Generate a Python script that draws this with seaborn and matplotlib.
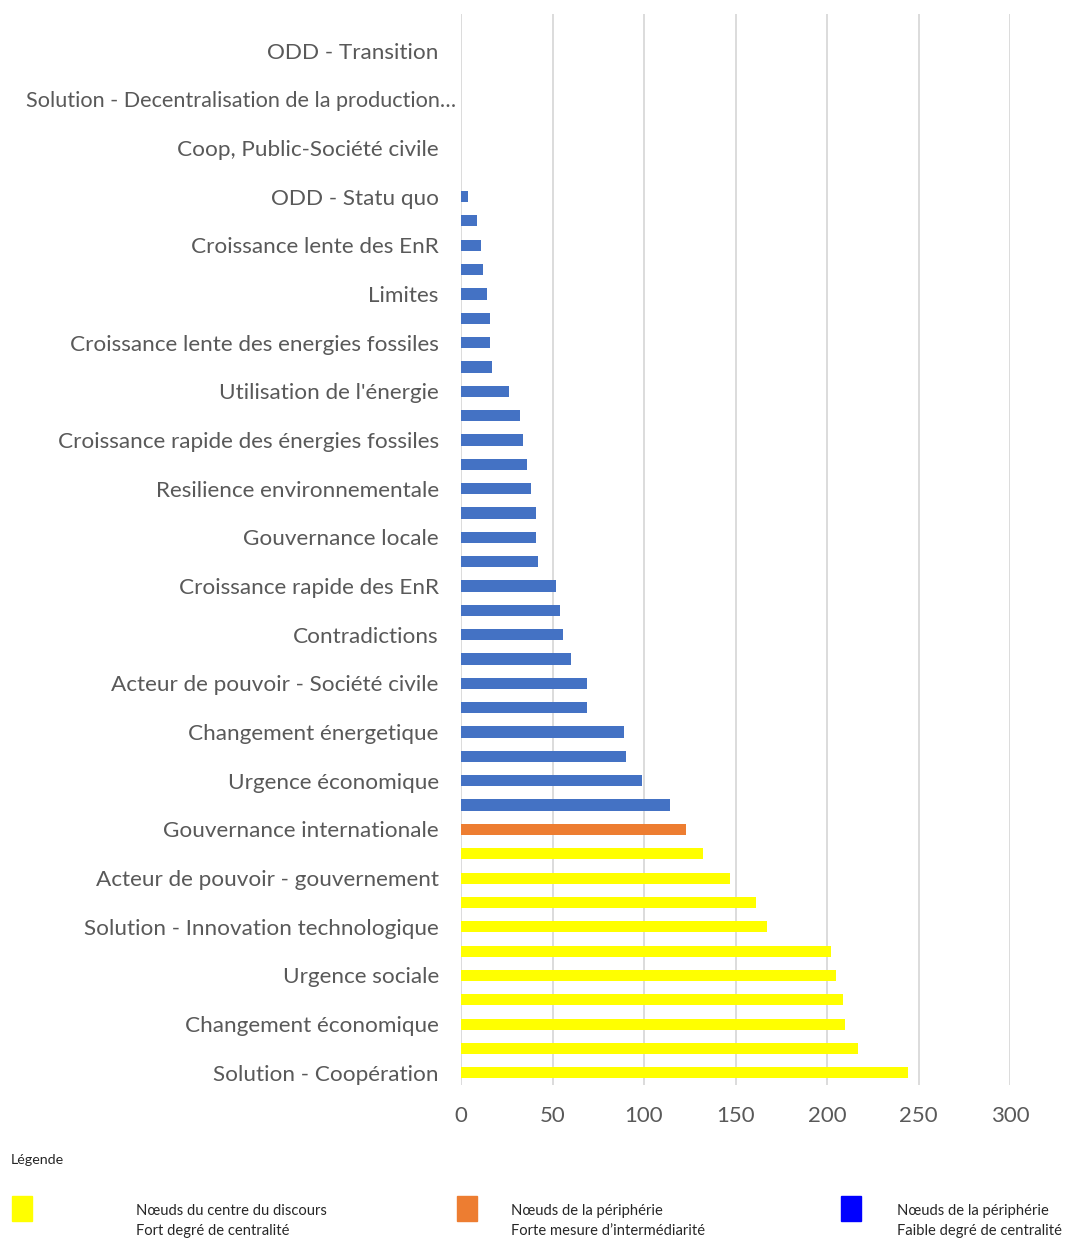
import matplotlib
matplotlib.use("Agg")
import matplotlib.pyplot as plt
import matplotlib.transforms as mtransforms
import pandas as pd
import seaborn as sns
from matplotlib.patches import Rectangle

# ---------------------------------------------------------------------------
# Data (rows listed top -> bottom; "" = label not shown on the axis)
# ---------------------------------------------------------------------------
etiquettes = [
    "", "ODD - Transition",
    "", "Solution - Decentralisation de la production…",
    "", "Coop, Public-Société civile",
    "", "ODD - Statu quo",
    "", "Croissance lente des EnR",
    "", "Limites",
    "", "Croissance lente des energies fossiles",
    "", "Utilisation de l'énergie",
    "", "Croissance rapide des énergies fossiles",
    "", "Resilience environnementale",
    "", "Gouvernance locale",
    "", "Croissance rapide des EnR",
    "", "Contradictions",
    "", "Acteur de pouvoir - Société civile",
    "", "Changement énergetique",
    "", "Urgence économique",
    "", "Gouvernance internationale",
    "", "Acteur de pouvoir - gouvernement",
    "", "Solution - Innovation technologique",
    "", "Urgence sociale",
    "", "Changement économique",
    "", "Solution - Coopération",
]

valeurs = [
    0, 0, 0, 0, 0, 0, 0, 4,
    9, 11, 12, 14, 16, 16, 17, 26,
    32, 34, 36, 38, 41, 41, 42, 52,
    54, 56, 60, 69, 69, 89, 90, 99,
    114, 123, 132, 147, 161, 167, 202, 205,
    209, 210, 217, 244,
]

groupes = ["peripherie"] * 33 + ["intermediaire"] + ["centre"] * 10

couleurs_barres = {"centre": "#FFFF00", "intermediaire": "#ED7D31", "peripherie": "#4472C4"}

legende_textes = [
    "Nœuds du centre du discours\nFort degré de centralité",
    "Nœuds de la périphérie\nForte mesure d’intermédiarité",
    "Nœuds de la périphérie\nFaible degré de centralité",
]
legende_couleurs = ["#FFFF00", "#ED7D31", "#0000FF"]

# ---------------------------------------------------------------------------
# Plot
# ---------------------------------------------------------------------------
sns.set_theme(style="white")
plt.rcParams["font.family"] = ["Lato", "DejaVu Sans"]

W, H = 1065, 1239
fig = plt.figure(figsize=(W / 100, H / 100), dpi=100)
ax = fig.add_axes([461 / W, 1 - 1085 / H, (1010 - 461) / W, (1085 - 14) / H])

df = pd.DataFrame({
    "rang": [str(i) for i in range(len(valeurs))],
    "valeur": valeurs,
    "groupe": groupes,
})

sns.barplot(
    data=df, x="valeur", y="rang", hue="groupe",
    order=df["rang"], palette=couleurs_barres,
    dodge=False, legend=False, width=0.46, saturation=1,
    linewidth=0, ax=ax,
)

ax.set_xlim(0, 300)
ax.set_ylim(len(valeurs) - 0.5, -0.5)
ax.set_xticks(range(0, 301, 50))
ax.set_yticks(range(len(valeurs)))
ax.set_yticklabels(etiquettes)
ax.set_xlabel("")
ax.set_ylabel("")
ax.grid(axis="x", color="#D9D9D9", lw=1.3)
ax.grid(axis="y", visible=False)
ax.set_axisbelow(True)
for s in ax.spines.values():
    s.set_visible(False)
ax.tick_params(axis="y", length=0, pad=16, labelsize=16.2, labelcolor="#595959")
ax.tick_params(axis="x", length=0, pad=15, labelsize=16, labelcolor="#595959")

# the truncated label overflows toward the bars, as in the original
for lab in ax.get_yticklabels():
    if lab.get_text().endswith("…"):
        lab.set_fontsize(15.6)
        lab.set_transform(lab.get_transform()
                          + mtransforms.ScaledTranslation(0.17, 0, fig.dpi_scale_trans))

# Legend block under the chart
fig.text(11 / W, 1 - 1160 / H, "Légende", fontsize=10.3, va="center", ha="left")
for xs, xt, coul, txt in zip([12, 457, 841], [136, 511, 897], legende_couleurs, legende_textes):
    fig.patches.append(Rectangle((xs / W, 1 - 1221 / H), 20 / W, 25 / H,
                                 transform=fig.transFigure, color=coul))
    fig.text(xt / W, 1 - 1221 / H, txt, fontsize=10.6, va="center", ha="left",
             linespacing=1.55)

fig.savefig("out.png", dpi=100)
plt.close(fig)
